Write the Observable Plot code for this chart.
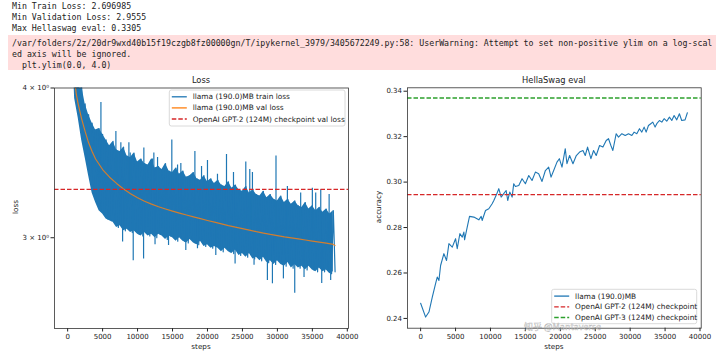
<!DOCTYPE html>
<html><head><meta charset="utf-8">
<script src="https://cdn.jsdelivr.net/npm/d3@7"></script>
<script src="https://cdn.jsdelivr.net/npm/@observablehq/plot@0.6"></script>
<style>
body{margin:0;background:#fff;width:720px;height:358px;overflow:hidden;position:relative;font-family:"DejaVu Sans",sans-serif}
.mono{font-family:"DejaVu Sans Mono",monospace;font-size:8.25px;color:#222;position:absolute;white-space:pre;line-height:11px;left:12px}
#warn{position:absolute;left:8px;top:35px;width:708px;height:35px;background:#fdd}
.plot{position:absolute;top:72px}
#wm{position:absolute;left:524px;top:321.5px;font-family:"Noto Sans CJK SC",sans-serif;font-size:9px;line-height:10px;color:rgba(255,255,255,0.5);-webkit-text-stroke:0.4px rgba(110,110,110,0.5);white-space:pre}
</style></head>
<body>
<div class="mono" style="top:1px">Min Train Loss: 2.696985</div>
<div class="mono" style="top:12px">Min Validation Loss: 2.9555</div>
<div class="mono" style="top:23px">Max Hellaswag eval: 0.3305</div>
<div id="warn"></div>
<div class="mono" style="top:38px">/var/folders/2z/20dr9wxd40b15f19czgb8fz00000gn/T/ipykernel_3979/3405672249.py:58: UserWarning: Attempt to set non-positive ylim on a log-scal</div>
<div class="mono" style="top:49px">ed axis will be ignored.</div>
<div class="mono" style="top:59.5px">  plt.ylim(0.0, 4.0)</div>
<div id="left" class="plot" style="left:0px"></div>
<div id="right" class="plot" style="left:360px"></div>
<div id="wm">知乎 @Mantaverse</div>
<script>
// ---------- data ----------
const xTicks = [0, 5000, 10000, 15000, 20000, 25000, 30000, 35000, 40000];
const lossTicks = [3, 4];
const accTicks = [0.24, 0.26, 0.28, 0.30, 0.32, 0.34];

const trainSteps = [0,500,1000,1500,2000,2500,3000,3500,4000,4500,5000,5500,6000,6500,7000,7500,8000,8500,9000,9500,10000,10500,11000,11500,12000,12500,13000,13500,14000,14500,15000,15500,16000,16500,17000,17500,18000,18500,19000,19500,20000,20500,21000,21500,22000,22500,23000,23500,24000,24500,25000,25500,26000,26500,27000,27500,28000,28500,29000,29500,30000,30500,31000,31500,32000,32500,33000,33500,34000,34500,35000,35500,36000,36500,37000,37500,38000];
const trainHigh = [10.9,6.4,4.3,4.05,4.02,3.88,3.80,3.74,3.69,3.70,
  3.66,3.62,3.58,3.61,3.55,3.54,3.57,3.51,3.50,3.53,
  3.47,3.49,3.46,3.45,3.49,3.43,3.44,3.42,3.46,3.41,
  3.40,3.43,3.39,3.41,3.37,3.38,3.40,3.36,3.35,3.38,
  3.34,3.36,3.33,3.35,3.32,3.31,3.34,3.30,3.32,3.29,
  3.28,3.31,3.27,3.29,3.26,3.25,3.28,3.24,3.26,3.23,
  3.22,3.25,3.21,3.23,3.20,3.22,3.19,3.18,3.21,3.17,
  3.19,3.16,3.18,3.15,3.17,3.14,3.16];
const trainLow = [8.5,4.6,3.92,3.78,3.62,3.50,3.38,3.27,3.21,3.16,
  3.14,3.11,3.10,3.09,3.06,3.07,3.04,3.05,3.03,3.04,
  3.02,3.01,3.03,3.01,3.02,3.00,3.02,3.01,2.99,3.01,
  3.00,2.98,3.00,2.98,2.97,2.99,2.97,2.96,2.98,2.95,
  2.96,2.94,2.95,2.94,2.92,2.94,2.92,2.91,2.93,2.90,
  2.91,2.89,2.91,2.88,2.89,2.87,2.89,2.86,2.87,2.85,
  2.87,2.85,2.84,2.86,2.83,2.85,2.83,2.84,2.82,2.84,
  2.82,2.81,2.83,2.81,2.82,2.80,2.81];

const spikeSteps = [4760,6900,7610,8760,8950,10900,12140,12330,12860,14900,15720,16190,18200,19150,20000,21430,22720,23720,25480,26050,26430,29800,31430,33330,35000,35480,36200,37400,
  7860,9380,10860,12500,14430,16900,18570,21190,23950,26660,28570,29290,30860,32480,33810,36340,37620];
const spikeLoss = [3.89,3.68,3.60,3.60,3.53,3.565,3.49,3.53,3.50,3.62,3.45,3.46,3.54,3.44,3.48,3.39,3.52,3.40,3.47,3.42,3.40,3.51,3.31,3.27,3.30,3.27,3.29,3.26,
  2.975,2.87,2.88,2.96,2.956,2.927,2.937,2.90,2.853,2.846,2.763,2.746,2.772,2.697,2.78,2.748,2.763];

const valSteps = [0,250,500,750,1000,1250,1500,2000,2500,3000,3500,4000,5000,6000,7000,8000,9000,10000,11000,12000,13000,14000,15000,16000,17000,18000,19000,20000,21000,22000,23000,24000,25000,26000,27000,28000,29000,30000,31000,32000,33000,34000,35000,36000,37000,38000,38250];
const valLoss = [11.0,7.2,5.4,4.55,4.05,3.95,3.88,3.77,3.68,3.60,3.54,3.49,3.42,3.37,3.33,3.295,3.265,3.24,3.218,3.20,3.184,3.17,3.157,3.145,3.134,3.123,3.112,3.101,3.091,3.081,3.071,3.062,3.053,3.044,3.035,3.027,3.019,3.012,3.005,2.999,2.993,2.987,2.981,2.975,2.969,2.962,2.9555];
const gpt2ValLoss = 3.2924;

const hellaSteps = [0,714,1190,1670,2140,2380,2620,2860,3330,3710,4050,4530,5000,5240,5620,5960,6190,6290,6670,7000,7620,8330,8670,8810,9290,9760,10240,10480,10860,11190,11530,11900,12240,12470,12760,13100,13330,13570,14050,14520,15000,15480,15950,16430,16900,17380,17860,18330,18670,19050,19520,19860,20240,20710,20950,21330,21810,22290,22760,23240,23570,23900,24380,24760,25140,25620,26100,26570,26900,27240,27520,28000,28330,28810,29290,29760,30240,30570,30950,31330,31670,32000,32290,32620,32950,33240,33570,33810,34190,34530,34860,35240,35620,35960,36290,36670,37050,37380,37860,38190];
const hellaAcc = [0.2467,0.2406,0.2428,0.2494,0.2553,0.2582,0.2567,0.2633,0.2685,0.2655,0.2729,0.2714,0.2751,0.2707,0.2773,0.2758,0.2780,0.2746,0.2802,0.2849,0.2846,0.2834,0.2849,0.2831,0.2875,0.2883,0.2905,0.2919,0.2945,0.2971,0.2934,0.2949,0.2963,0.2919,0.2956,0.2934,0.2993,0.2981,0.2985,0.3015,0.2993,0.3029,0.3007,0.3044,0.3037,0.3003,0.3051,0.3066,0.3022,0.3051,0.3088,0.3103,0.3066,0.3147,0.3081,0.3117,0.3081,0.3117,0.3132,0.3139,0.3117,0.3154,0.3103,0.3139,0.3117,0.3161,0.3154,0.3183,0.3191,0.3161,0.3139,0.3213,0.3198,0.3213,0.3205,0.3213,0.3205,0.3220,0.3213,0.3235,0.3220,0.3242,0.3220,0.3249,0.3257,0.3264,0.3242,0.3257,0.3271,0.3264,0.3279,0.3268,0.3286,0.3271,0.3293,0.3274,0.3301,0.3271,0.3274,0.3305];
const gpt2Hella = 0.2945;
const gpt3Hella = 0.337;

// ---------- derived tables ----------
const bandData = trainSteps.map((s, i) => ({step: s, hi: trainHigh[i], lo: trainLow[i]}));
const trainData = [];
trainSteps.forEach((s, i) => {
  trainData.push({step: s, loss: trainHigh[i]});
  trainData.push({step: s + 250, loss: trainLow[i]});
});
const valData = valSteps.map((s, i) => ({step: s, loss: valLoss[i]}));
const valAt = s => {
  const i = Math.max(1, Math.min(valSteps.length - 1, d3.bisectLeft(valSteps, s)));
  const t = (s - valSteps[i-1]) / (valSteps[i] - valSteps[i-1]);
  return valLoss[i-1] + t * (valLoss[i] - valLoss[i-1]);
};
const spikeData = spikeSteps.map((s, i) => ({step: s, loss: spikeLoss[i], base: valAt(s)}));
const hellaData = hellaSteps.map((s, i) => ({step: s, acc: hellaAcc[i]}));

const BLUE = "#1f77b4", ORANGE = "#ff7f0e", RED = "#d62728", GREEN = "#2ca02c";
const DASH = "4.5,2";
const style = {fontFamily: "DejaVu Sans, sans-serif", fontSize: "7px", color: "#222", background: "transparent", overflow: "visible"};
const xDomain = [-1880, 40170];

const left = Plot.plot({
  width: 360, height: 286,
  marginLeft: 54, marginRight: 12, marginTop: 15.5, marginBottom: 30,
  style,
  x: {domain: xDomain, ticks: xTicks, tickFormat: "d", tickSize: 3.5, tickPadding: 2, label: null},
  y: {type: "log", domain: [2.52, 4.0], ticks: lossTicks, tickFormat: d => `${d} × 10⁰`, tickSize: 3.5, tickPadding: 2, label: null},
  marks: [
    Plot.areaY(bandData, {x: "step", y1: "lo", y2: "hi", fill: BLUE, clip: true}),
    Plot.line(trainData, {x: "step", y: "loss", stroke: BLUE, strokeWidth: 1.2, clip: true}),
    Plot.ruleX(spikeData, {x: "step", y1: "base", y2: "loss", stroke: BLUE, strokeWidth: 1.2, clip: true}),
    Plot.line(valData, {x: "step", y: "loss", stroke: ORANGE, strokeWidth: 1.2, strokeOpacity: 0.8, clip: true}),
    Plot.ruleY([gpt2ValLoss], {stroke: RED, strokeWidth: 1.3, strokeDasharray: DASH}),
    Plot.frame({stroke: "#333", strokeWidth: 0.8})
  ]
});

const right = Plot.plot({
  width: 360, height: 286,
  marginLeft: 47, marginRight: 19.3, marginTop: 15.3, marginBottom: 30.3,
  style,
  x: {domain: xDomain, ticks: xTicks, tickFormat: "d", tickSize: 3.5, tickPadding: 2, label: null},
  y: {domain: [0.2357, 0.3415], ticks: accTicks, tickFormat: ".2f", tickSize: 3.5, tickPadding: 2, label: null},
  marks: [
    Plot.line(hellaData, {x: "step", y: "acc", stroke: BLUE, strokeWidth: 1.1}),
    Plot.ruleY([gpt2Hella], {stroke: RED, strokeWidth: 1.3, strokeDasharray: DASH}),
    Plot.ruleY([gpt3Hella], {stroke: GREEN, strokeWidth: 1.3, strokeDasharray: DASH}),
    Plot.frame({stroke: "#333", strokeWidth: 0.8})
  ]
});

function addText(svg, x, y, txt, size, rotate) {
  const t = d3.select(svg).append("text")
    .attr("x", x).attr("y", y)
    .attr("text-anchor", "middle").attr("dy", "0.35em")
    .attr("font-family", "DejaVu Sans, sans-serif").attr("font-size", size).attr("fill", "#222")
    .text(txt);
  if (rotate) t.attr("transform", `rotate(-90 ${x} ${y})`);
}
function legend(svg, box, rows, gap) {
  const g = d3.select(svg).append("g");
  g.append("rect").attr("x", box.x).attr("y", box.y).attr("width", box.w).attr("height", box.h)
    .attr("rx", 2).attr("fill", "white").attr("fill-opacity", 0.8).attr("stroke", "#d0d0d0").attr("stroke-width", 0.8);
  rows.forEach((r, i) => {
    const y = box.y + 6.8 + i * gap;
    g.append("line").attr("x1", box.x + 2.5).attr("x2", box.x + 17.5).attr("y1", y).attr("y2", y)
      .attr("stroke", r.color).attr("stroke-width", 1.3).attr("stroke-dasharray", r.dash || null);
    g.append("text").attr("x", box.x + 23.4).attr("y", y).attr("dy", "0.35em").attr("text-anchor", "start")
      .attr("font-family", "DejaVu Sans, sans-serif").attr("font-size", 7.4).attr("fill", "#222").text(r.label);
  });
}

addText(left, 201, 8, "Loss", 8.3);
addText(left, 201, 274.7, "steps", 7.2);
addText(left, 15, 135, "loss", 7.2, true);
legend(left, {x: 169.3, y: 18, w: 175.7, h: 36}, [
  {label: "llama (190.0)MB train loss", color: BLUE},
  {label: "llama (190.0)MB val loss", color: ORANGE},
  {label: "OpenAI GPT-2 (124M) checkpoint val loss", color: RED, dash: DASH}
], 11.1);

addText(right, 193.8, 8, "HellaSwag eval", 8.3);
addText(right, 193.8, 274.7, "steps", 7.2);
addText(right, 18, 135, "accuracy", 7.2, true);
legend(right, {x: 191.7, y: 217.3, w: 145, h: 34.4}, [
  {label: "llama (190.0)MB", color: BLUE},
  {label: "OpenAI GPT-2 (124M) checkpoint", color: RED, dash: DASH},
  {label: "OpenAI GPT-3 (124M) checkpoint", color: GREEN, dash: DASH}
], 10.7);

document.getElementById("left").appendChild(left);
document.getElementById("right").appendChild(right);
</script>
</body></html>
